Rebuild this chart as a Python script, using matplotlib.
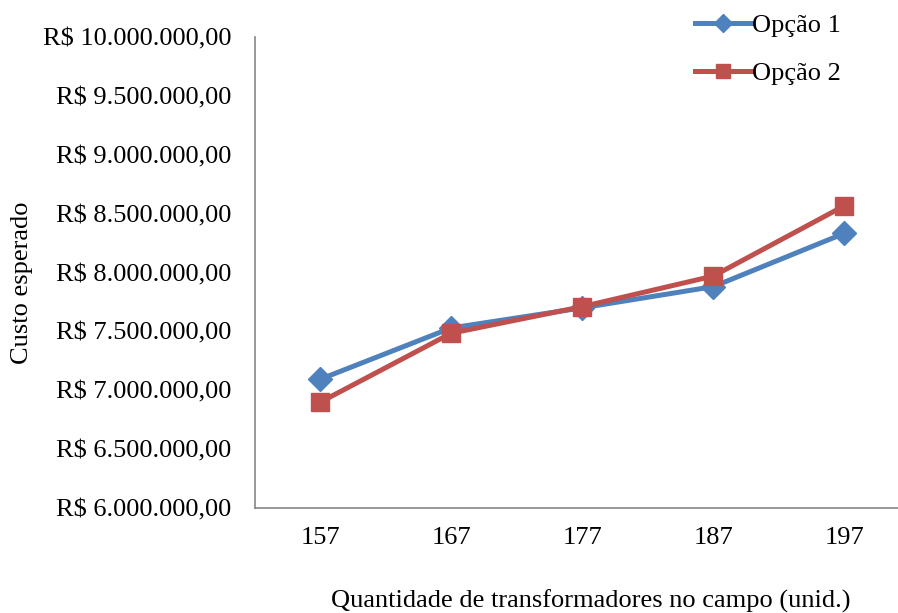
import matplotlib
matplotlib.use("Agg")
import matplotlib.pyplot as plt
from matplotlib.ticker import FixedLocator, FuncFormatter

# Data
quantidades = ["157", "167", "177", "187", "197"]
opcao1 = [7093000, 7529000, 7700000, 7880000, 8333000]
opcao2 = [6898000, 7484000, 7710000, 7970000, 8567000]
series_names = ["Opção 1", "Opção 2"]
y_ticks = [6000000, 6500000, 7000000, 7500000, 8000000,
           8500000, 9000000, 9500000, 10000000]

plt.rcParams["font.family"] = ["Liberation Serif", "DejaVu Serif"]
FS = 19

fig = plt.figure(figsize=(8.98, 6.13), dpi=100)
ax = fig.add_axes([254.5 / 898, 1 - 508 / 613, 655.5 / 898, (508 - 37) / 613])

blue = "#4F81BD"
red = "#C0504D"
x = range(len(quantidades))
ax.plot(x, opcao1, color=blue, lw=3.6, marker="D", ms=12,
        mfc=blue, mec=blue, label=series_names[0], zorder=3)
ax.plot(x, opcao2, color=red, lw=3.6, marker="s", ms=13.5,
        mfc=red, mec=red, label=series_names[1], zorder=4)

ax.set_xlim(-0.5, len(quantidades) - 0.5)
ax.set_ylim(6000000, 10000000)
ax.set_xticks(list(x))
ax.set_xticklabels(quantidades, fontsize=FS)
ax.yaxis.set_major_locator(FixedLocator(y_ticks))


def brl(v, pos=None):
    s = f"{v:,.2f}"
    s = s.replace(",", "X").replace(".", ",").replace("X", ".")
    return f"R$ {s}"


ax.yaxis.set_major_formatter(FuncFormatter(brl))
ax.tick_params(axis="y", length=0, pad=16.5, labelsize=FS)
ax.tick_params(axis="x", length=0, pad=14, labelsize=FS)

for side in ("top", "right"):
    ax.spines[side].set_visible(False)
for side in ("left", "bottom"):
    ax.spines[side].set_color("#868686")
    ax.spines[side].set_linewidth(1.2)

fig.text(22 / 898, 1 - 283 / 613, "Custo esperado", rotation=90,
         ha="center", va="center", fontsize=FS)
fig.text(591 / 898, 1 - 601 / 613,
         "Quantidade de transformadores no campo (unid.)",
         ha="center", va="center", fontsize=FS)

fig.legend(loc="upper left", bbox_to_anchor=(690 / 898, 1 - 8 / 613),
           frameon=False, fontsize=FS, handlelength=2.1,
           handletextpad=0.05, labelspacing=0.95, borderaxespad=0,
           borderpad=0.2, markerscale=0.75)

fig.savefig("out.png", dpi=100)
